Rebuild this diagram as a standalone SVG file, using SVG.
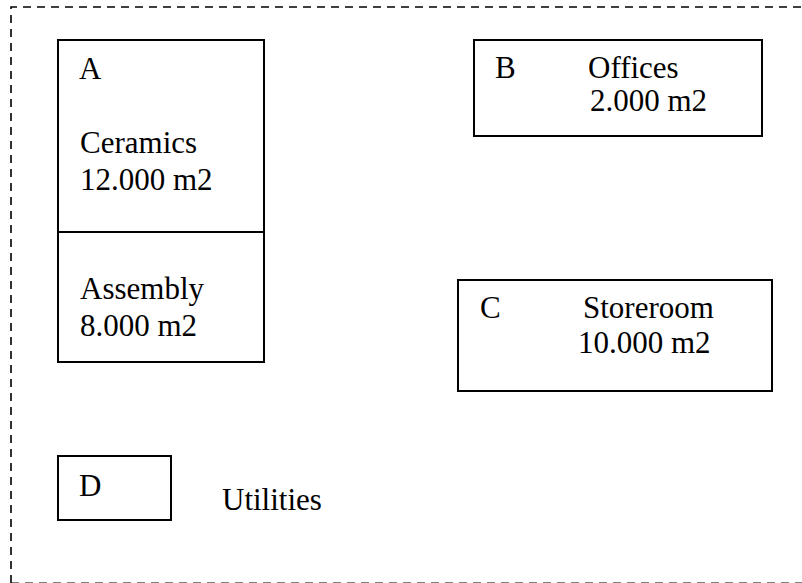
<svg xmlns="http://www.w3.org/2000/svg" width="802" height="583" viewBox="0 0 802 583">
<style>
.box{fill:#fff;stroke:#000;stroke-width:2}
.t{font-family:"Liberation Serif","Times New Roman",serif;font-size:31px;fill:#000}
.frame{fill:none;stroke:#000;stroke-width:1.6;stroke-dasharray:8 6}
</style>
<rect width="802" height="583" fill="#fff"/>
<g id="frame">
<path class="frame" d="M11 583 L11 7 L810 7"/>
<path class="frame" d="M11 583.2 L810 583.2"/>
</g>
<g id="connectors"></g>
<g id="nodeA">
<rect class="box" x="58" y="40" width="206" height="322"/>
<line x1="58" y1="232" x2="264" y2="232" stroke="#000" stroke-width="2"/>
<text class="t" x="79" y="79">A</text>
<text class="t" x="80" y="153">Ceramics</text>
<text class="t" x="80" y="190">12.000 m2</text>
<text class="t" x="80" y="299">Assembly</text>
<text class="t" x="80" y="336">8.000 m2</text>
</g>
<g id="nodeB">
<rect class="box" x="474" y="40" width="288" height="96"/>
<text class="t" x="495" y="78">B</text>
<text class="t" x="588" y="78">Offices</text>
<text class="t" x="590" y="111">2.000 m2</text>
</g>
<g id="nodeC">
<rect class="box" x="458" y="280" width="314" height="111"/>
<text class="t" x="480" y="318">C</text>
<text class="t" x="583" y="318">Storeroom</text>
<text class="t" x="578" y="353">10.000 m2</text>
</g>
<g id="nodeD">
<rect class="box" x="58" y="456" width="113" height="64"/>
<text class="t" x="79" y="496">D</text>
</g>
<g id="utilities">
<text class="t" x="222" y="510">Utilities</text>
</g>
</svg>
